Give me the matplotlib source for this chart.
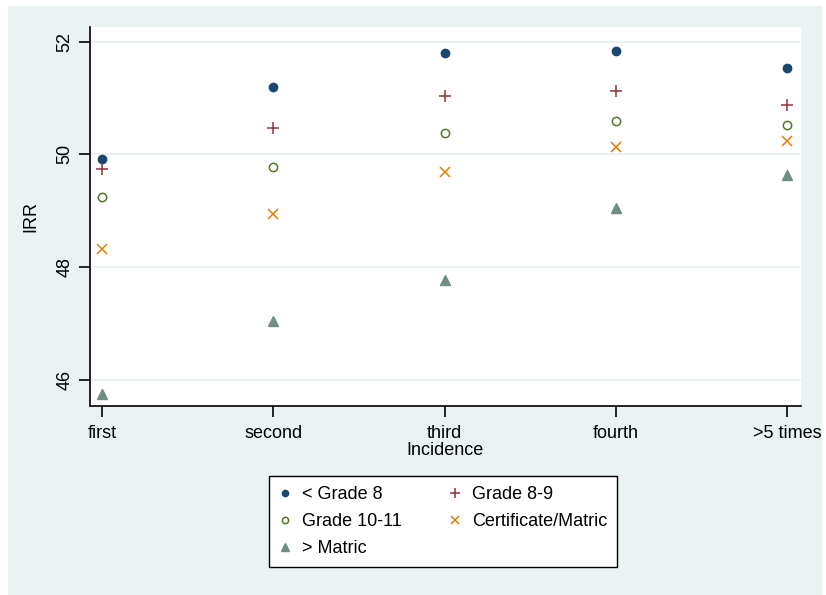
import matplotlib
matplotlib.use("Agg")
import matplotlib.pyplot as plt
from matplotlib.patches import Rectangle

plt.rcParams['font.family'] = ['Liberation Sans', 'DejaVu Sans']

categories = ["first", "second", "third", "fourth", ">5 times"]
lt_grade8 = [49.91, 51.20, 51.79, 51.84, 51.54]
grade8_9 = [49.73, 50.46, 51.04, 51.13, 50.87]
grade10_11 = [49.24, 49.78, 50.38, 50.59, 50.52]
cert_matric = [48.31, 48.94, 49.69, 50.13, 50.24]
gt_matric = [45.74, 47.04, 47.77, 49.04, 49.64]
yticks = [46, 48, 50, 52]

W, H = 826, 595
fig = plt.figure(figsize=(W / 100, H / 100), dpi=100)
fig.patch.set_facecolor("white")
bg = "#EAF2F3"
fig.patches.append(Rectangle((8 / W, 0), (822 - 8) / W, (595 - 6) / H,
                             transform=fig.transFigure, facecolor=bg,
                             edgecolor="none", zorder=-10))

ax = fig.add_axes([90 / W, (H - 406) / H, (801 - 90) / W, (406 - 27) / H])
ax.set_facecolor("white")

x = list(range(len(categories)))
series = [
    (lt_grade8, "< Grade 8", dict(marker="o", color="#1a476f", markersize=6, markerfacecolor="#1a476f")),
    (grade8_9, "Grade 8-9", dict(marker="+", color="#90353b", markersize=9, markeredgewidth=1.1)),
    (grade10_11, "Grade 10-11", dict(marker="o", color="#55752f", markersize=6, markerfacecolor="none", markeredgewidth=1.1)),
    (cert_matric, "Certificate/Matric", dict(marker="x", color="#e37e00", markersize=7.5, markeredgewidth=1.1)),
    (gt_matric, "> Matric", dict(marker="^", color="#6e8e84", markersize=7)),
]
for vals, lab, style in series:
    ax.plot(x, vals, linestyle="none", label=lab, **style)

ax.set_xlim(-0.07, 4.08)
ax.set_ylim(45.53, 52.26)
ax.set_yticks(yticks)
ax.set_yticklabels([str(t) for t in yticks], rotation=90, va="center", fontsize=13)
ax.set_xticks(x)
ax.set_xticklabels(categories, fontsize=13)
ax.grid(axis="y", color=bg, linewidth=1.5)
ax.set_axisbelow(True)
for s in ["top", "right"]:
    ax.spines[s].set_visible(False)
for s in ["left", "bottom"]:
    ax.spines[s].set_color("black")
    ax.spines[s].set_linewidth(1.2)
ax.tick_params(axis="both", direction="out", length=8, width=1.2, color="black")
ax.tick_params(axis="x", pad=6)
ax.tick_params(axis="y", pad=4)
ax.set_xlabel("Incidence", fontsize=13, labelpad=0)
ax.set_ylabel("IRR", fontsize=13, labelpad=12)

handles, labels = ax.get_legend_handles_labels()
order = [0, 2, 4, 1, 3]
leg = fig.legend([handles[i] for i in order], [labels[i] for i in order],
                 ncol=2, loc="center",
                 bbox_to_anchor=((258 + 628) / 2 / W, 1 - (475 + 568) / 2 / H),
                 fontsize=13, frameon=True, fancybox=False, edgecolor="black",
                 facecolor="white", framealpha=1, handlelength=0.7,
                 handletextpad=0.6, columnspacing=2.6, labelspacing=0.55,
                 borderpad=0.55, borderaxespad=0, markerscale=0.75)
leg.get_frame().set_linewidth(1.0)

fig.savefig("out.png", dpi=100, facecolor=fig.get_facecolor())
